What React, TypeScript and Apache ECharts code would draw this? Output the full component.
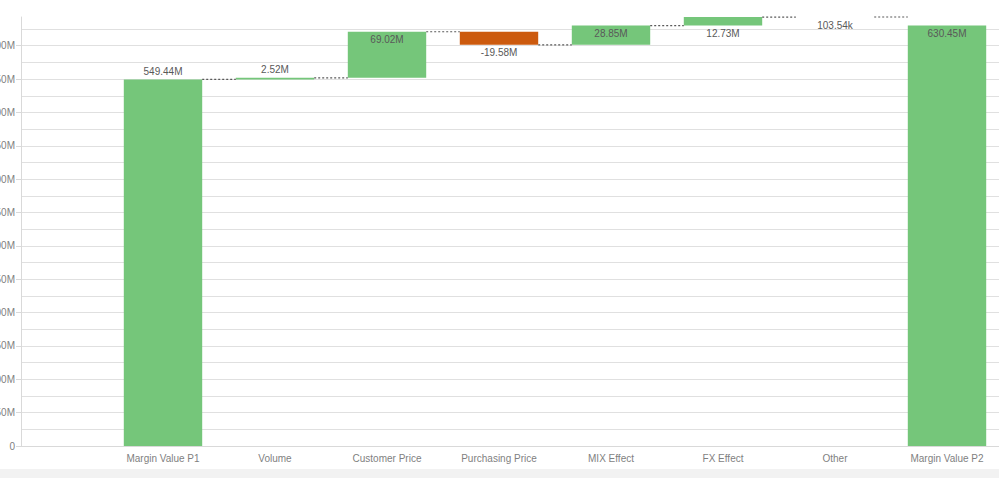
import React, { useEffect, useRef } from "react";
import * as echarts from "echarts";

const categories = [
  "Margin Value P1",
  "Volume",
  "Customer Price",
  "Purchasing Price",
  "MIX Effect",
  "FX Effect",
  "Other",
  "Margin Value P2",
];
// values in millions
const values = [549.44, 2.52, 69.02, -19.58, 28.85, 12.73, 0.10354, 630.45];
const isTotal = [true, false, false, false, false, false, false, true];
const labelPlacement = ["top", "top", "insideTop", "bottom", "insideTop", "bottom", "bottom", "insideTop"];
const yLabelTicks = [0, 50, 100, 150, 200, 250, 300, 350, 400, 450, 500, 550, 600];

const GREEN = "#75c67a";
const ORANGE = "#cc5a0e";
const FONT = "'Liberation Sans Narrow', 'Arial Narrow', 'Liberation Sans', sans-serif";

function fmt(v: number): string {
  const a = Math.abs(v);
  if (a < 1) return (v * 1000).toFixed(2) + "k";
  return v.toFixed(2) + "M";
}

export default function App() {
  const ref = useRef<HTMLDivElement>(null);
  useEffect(() => {
    if (!ref.current) return;
    const chart = echarts.init(ref.current, undefined, { renderer: "svg" });

    // waterfall geometry from data
    const base: number[] = [];
    const height: number[] = [];
    const levels: number[] = [];
    let cum = 0;
    values.forEach((v, i) => {
      if (isTotal[i]) {
        base.push(0);
        height.push(v);
        cum = v;
      } else if (v >= 0) {
        base.push(cum);
        height.push(v);
        cum += v;
      } else {
        base.push(cum + v);
        height.push(-v);
        cum += v;
      }
      levels.push(cum);
    });
    const yMax = Math.max(...base.map((b, i) => b + height[i]));

    const connectorData = levels.slice(0, levels.length - 1).map((l, i) => [i, l]);

    const option: any = {
      animation: false,
      backgroundColor: "#ffffff",
      graphic: [
        {
          type: "rect",
          shape: { x: 0, y: 469, width: 999, height: 9 },
          style: { fill: "#f2f2f2" },
          silent: true,
        },
      ],
      grid: [
        { left: 21, right: -4, top: 17, bottom: 32, containLabel: false, outerBoundsMode: "none" },
        { left: 107, right: -4, top: 17, bottom: 32, containLabel: false, outerBoundsMode: "none" },
      ],
      xAxis: [
        {
          gridIndex: 0,
          type: "value",
          min: 0,
          max: 1,
          axisLine: { show: true, onZero: false, lineStyle: { color: "#d9d9d9", width: 1 } },
          axisTick: { show: false },
          axisLabel: { show: false },
          splitLine: { show: false },
        },
        {
          gridIndex: 1,
          type: "category",
          data: categories,
          axisLine: { show: false },
          axisTick: { show: false },
          axisLabel: {
            color: "#7f7f7f",
            fontSize: 10,
            fontFamily: FONT,
            margin: 7,
            interval: 0,
          },
          splitLine: { show: false },
        },
      ],
      yAxis: [
        {
          // gridlines every 25M + axis line
          gridIndex: 0,
          type: "value",
          position: "left",
          min: 0,
          max: yMax,
          interval: 25,
          axisLine: { show: true, lineStyle: { color: "#d9d9d9", width: 1 } },
          axisTick: { show: false },
          axisLabel: { show: false },
          splitLine: {
            show: true,
            showMinLine: false,
            showMaxLine: false,
            lineStyle: { color: "#e0e0e0", width: 1 },
          },
        },
        {
          // labels + ticks every 50M
          gridIndex: 0,
          type: "value",
          position: "left",
          min: 0,
          max: yMax,
          interval: 50,
          axisLine: { show: false },
          axisTick: {
            show: true,
            length: 5,
            customValues: yLabelTicks,
            lineStyle: { color: "#d9d9d9" },
          },
          axisLabel: {
            customValues: yLabelTicks,
            color: "#7f7f7f",
            fontSize: 10,
            fontFamily: FONT,
            margin: 6,
            formatter: (v: number) => (v === 0 ? "0" : yLabelTicks.indexOf(v) >= 0 ? v + "M" : ""),
          },
          splitLine: { show: false },
        },
        {
          gridIndex: 1,
          type: "value",
          min: 0,
          max: yMax,
          show: false,
          splitLine: { show: false },
        },
      ],
      series: [
        {
          name: "base",
          type: "bar",
          xAxisIndex: 1,
          yAxisIndex: 2,
          stack: "wf",
          barWidth: "70%",
          itemStyle: { color: "transparent" },
          data: base,
          silent: true,
          z: 2,
        },
        {
          name: "value",
          type: "bar",
          xAxisIndex: 1,
          yAxisIndex: 2,
          stack: "wf",
          barWidth: "70%",
          barMinHeight: 1,
          z: 3,
          data: height.map((h, i) => ({
            value: h,
            itemStyle: { color: !isTotal[i] && values[i] < 0 ? ORANGE : GREEN },
            label: {
              show: true,
              position: labelPlacement[i],
              distance: 3,
              color: "#595959",
              fontSize: 10,
              fontFamily: FONT,
              formatter: () => fmt(values[i]),
            },
          })),
        },
        {
          name: "connectors",
          type: "custom",
          xAxisIndex: 1,
          yAxisIndex: 2,
          z: 4,
          silent: true,
          data: connectorData,
          renderItem: (params: any, api: any) => {
            const i = api.value(0);
            const lvl = api.value(1);
            const p1 = api.coord([i, lvl]);
            const p2 = api.coord([i + 1, lvl]);
            const bw = api.size([1, 0])[0] * 0.7;
            return {
              type: "line",
              shape: { x1: p1[0] + bw / 2, y1: p1[1], x2: p2[0] - bw / 2, y2: p2[1] },
              style: { stroke: "#595959", lineWidth: 1.2, lineDash: [2, 2] },
            };
          },
        },
      ],
    };
    chart.setOption(option);
    return () => chart.dispose();
  }, []);
  return (
    <div
      ref={ref}
      style={{ position: "fixed", left: 0, top: 0, width: 999, height: 478 }}
    />
  );
}
